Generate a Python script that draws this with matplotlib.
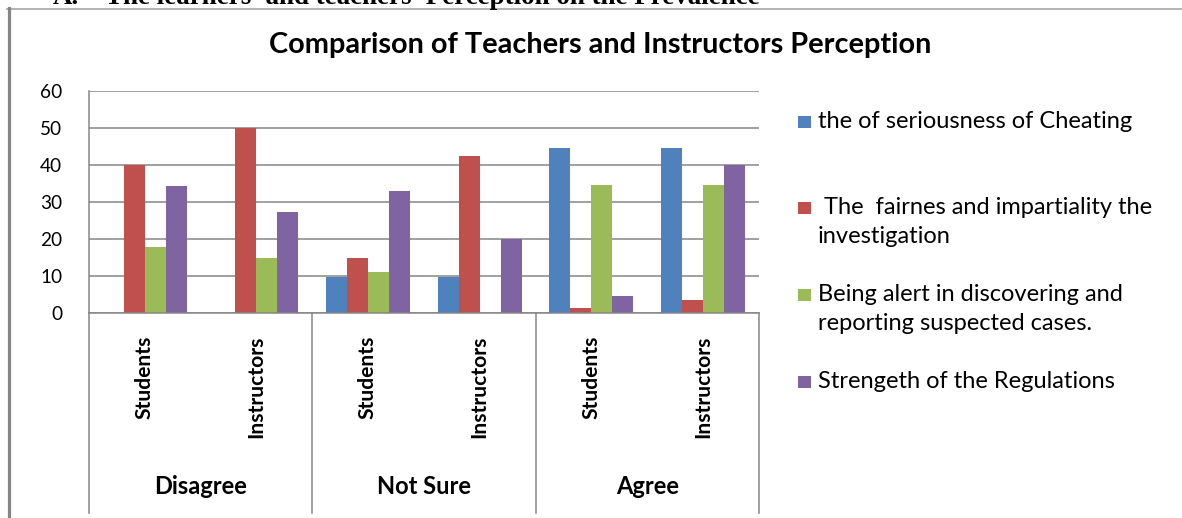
import matplotlib
matplotlib.use('Agg')
import matplotlib.pyplot as plt
from matplotlib.lines import Line2D
from matplotlib.patches import Rectangle
import numpy as np

# ---------------- data ----------------
responses = ['Disagree', 'Not Sure', 'Agree']
groups = ['Students', 'Instructors']
series_names = ['the of seriousness of Cheating',
                ' The  fairnes and impartiality the\ninvestigation',
                'Being alert in discovering and\nreporting suspected cases.',
                'Strengeth of the Regulations']
seriousness = [0, 0, 9.8, 9.8, 44.7, 44.7]
fairness = [40, 50, 15, 42.5, 1.4, 3.6]
alertness = [18, 15, 11.2, 0, 34.7, 34.7]
regulations = [34.4, 27.4, 33, 20, 4.7, 40]
yticks = [0, 10, 20, 30, 40, 50, 60]
title = 'Comparison of Teachers and Instructors Perception'
heading_num = 'A.'
heading = "The learners' and teachers' Perception on the Prevalence"
colors = ['#4F81BD', '#C0504D', '#9BBB59', '#8064A2']
grid_color = '#868686'

# ---------------- figure ----------------
W, H = 1182, 518
fig = plt.figure(figsize=(W / 100, H / 100), dpi=100)
fig.patch.set_facecolor('white')
FONT = 'Lato'

def fx(x):
    return x / W

def fy(y):
    return 1 - y / H

renderer = fig.canvas.get_renderer()

def size_for(s, target, dim='w', **kw):
    t = fig.text(0, 0, s, fontsize=20, **kw)
    bb = t.get_window_extent(renderer)
    t.remove()
    v = bb.width if dim == 'w' else bb.height
    return 20 * target / v

# axes
ax_l, ax_r, ax_t, ax_b = 88.7, 759, 91, 313.3
ax = fig.add_axes([fx(ax_l), fy(ax_b), fx(ax_r - ax_l), (ax_b - ax_t) / H])

series = [seriousness, fairness, alertness, regulations]
ncat = len(responses) * len(groups)
x = np.arange(ncat)
bw = 0.188
for i, (vals, c) in enumerate(zip(series, colors)):
    ax.bar(x + (i - 1.5) * bw, vals, width=bw, color=c, edgecolor='none', zorder=2)

ax.set_xlim(-0.5, ncat - 0.5)
ax.set_ylim(0, 60)
ax.set_yticks(yticks)
ax.yaxis.grid(True, color=grid_color, linewidth=1.1, zorder=0)
ax.set_axisbelow(True)
for s in ['top', 'right']:
    ax.spines[s].set_visible(False)
for s in ['left', 'bottom']:
    ax.spines[s].set_color(grid_color)
    ax.spines[s].set_linewidth(1.1)

ysz = size_for('60', 22, family=FONT)
ax.tick_params(axis='y', length=0, pad=19, labelsize=ysz, labelcolor='black')
for lab in ax.get_yticklabels():
    lab.set_family(FONT)

csz = size_for('Instructors', 102, family=FONT, fontweight='bold')
ax.set_xticks(x)
ax.set_xticklabels(groups * len(responses), rotation=90, fontweight='bold',
                   fontsize=csz, family=FONT)
ax.tick_params(axis='x', length=0, pad=16)

# separators of the category axis
ah = ax_b - ax_t
ybot = -(513 - ax_b) / ah
trans = ax.get_xaxis_transform()
for b in np.arange(0, ncat + 1, len(groups)) - 0.5:
    ax.add_line(Line2D([b, b], [0, ybot], transform=trans, color=grid_color,
                       linewidth=1.1, clip_on=False))

gsz = size_for('Disagree', 93, family=FONT, fontweight='bold')
ygl = -(487 - ax_b) / ah
for j, r in enumerate(responses):
    cx = j * len(groups) + (len(groups) - 1) / 2
    ax.text(cx, ygl, r, transform=trans, ha='center', va='center',
            fontsize=gsz, fontweight='bold', family=FONT)

# title
tsz = size_for(title, 660, family=FONT, fontweight='bold')
fig.text(fx(600), fy(45), title, ha='center', va='center', fontsize=tsz,
         fontweight='bold', family=FONT)

# legend
lsz = size_for(series_names[0], 315, family=FONT)
leg_y = [122, 208, 295, 382]
for name, c, yy in zip(series_names, colors, leg_y):
    fig.patches.append(Rectangle((fx(798), fy(yy + 6)), 13 / W, 12 / H,
                                 transform=fig.transFigure, facecolor=c,
                                 edgecolor='none'))
    fig.text(fx(818), fy(yy), name, ha='left', va='top', fontsize=lsz,
             family=FONT, linespacing=1.45,
             transform=fig.transFigure).set_y(fy(yy - 11))

# heading above the chart (cut by the page edge)
hsz = size_for(heading, 655, family='Liberation Serif', fontweight='bold')
fig.text(fx(53), fy(4), heading_num, ha='left', va='baseline', fontsize=hsz,
         fontweight='bold', family='Liberation Serif')
fig.text(fx(105), fy(4), heading, ha='left', va='baseline', fontsize=hsz,
         fontweight='bold', family='Liberation Serif')

# outer chart border (top and left visible)
fig.add_artist(Line2D([fx(7), 1], [fy(8.8), fy(8.8)], transform=fig.transFigure,
                      color='#A6A6A6', linewidth=1.2))
fig.add_artist(Line2D([fx(8.5), fx(8.5)], [fy(8.2), 0], transform=fig.transFigure,
                      color='#858585', linewidth=2.3))

fig.savefig('out.png', dpi=100, facecolor='white')
